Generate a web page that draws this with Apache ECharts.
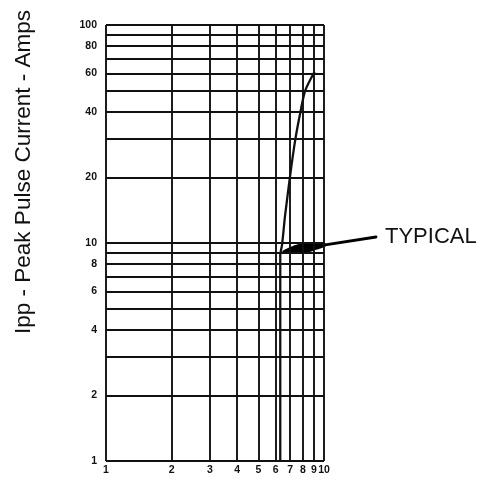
<!DOCTYPE html>
<html>
<head>
<meta charset="utf-8">
<script src="https://cdn.jsdelivr.net/npm/echarts@6/dist/echarts.min.js"></script>
<style>
html,body{margin:0;padding:0;background:#fff;}
#c{width:485px;height:483px;}
</style>
</head>
<body>
<div id="c"></div>
<script>
// Grid lines and tick labels
const xGrid = [1, 2, 3, 4, 5, 6, 7, 8, 9, 10];
const xTickLabels = [1, 2, 3, 4, 5, 6, 7, 8, 9, 10];
const yGrid = [1, 2, 3, 4, 5, 6, 7, 8, 9, 10, 20, 30, 40, 50, 60, 70, 80, 90, 100];
const yTickLabels = [1, 2, 4, 6, 8, 10, 20, 40, 60, 80, 100];

// Typical curve (x, Ipp amps)
const curveX = [6.3, 6.3, 6.42, 6.62, 6.98, 7.38, 7.8, 8.2, 9.05];
const curveY = [1, 8.8, 9.8, 13.2, 20.1, 29.7, 40, 50, 61];

// Annotation
const annotationText = 'TYPICAL';
const arrowTip = [6.42, 9.15];
const yTitle = 'Ipp - Peak Pulse Current - Amps';

const lineColor = '#111';
const tickFont = {fontFamily: 'Liberation Sans', fontWeight: 'bold', fontSize: 10.5, color: '#111'};

const chart = echarts.init(document.getElementById('c'), null, {renderer: 'canvas'});

const vLines = xGrid.map(v => ({
  xAxis: v,
  label: {
    show: xTickLabels.indexOf(v) >= 0,
    position: 'start',
    distance: 4,
    formatter: String(v),
    ...tickFont
  }
}));
const hLines = yGrid.map(v => ({
  yAxis: v,
  label: {
    show: yTickLabels.indexOf(v) >= 0,
    position: 'start',
    distance: 9,
    formatter: String(v),
    ...tickFont
  }
}));

chart.setOption({
  animation: false,
  backgroundColor: '#fff',
  grid: {left: 106, right: 161, top: 25, bottom: 22, containLabel: false},
  xAxis: {
    type: 'log', logBase: 10, min: 1, max: 10,
    axisLine: {show: false}, axisTick: {show: false},
    axisLabel: {show: false}, splitLine: {show: false}
  },
  yAxis: {
    type: 'log', logBase: 10, min: 1, max: 100,
    axisLine: {show: false}, axisTick: {show: false},
    axisLabel: {show: false}, splitLine: {show: false}
  },
  series: [
    {
      type: 'line',
      data: [],
      silent: true,
      markLine: {
        silent: true,
        symbol: ['none', 'none'],
        animation: false,
        lineStyle: {color: lineColor, width: 1.9, type: 'solid'},
        emphasis: {disabled: true},
        data: vLines.concat(hLines)
      }
    },
    {
      type: 'line',
      data: curveX.map((x, i) => [x, curveY[i]]),
      showSymbol: false,
      symbol: 'none',
      smooth: 0.25,
      lineStyle: {color: lineColor, width: 2.3},
      silent: true
    }
  ]
});

// Arrow annotation anchored to data coordinates
const tip = chart.convertToPixel({xAxisIndex: 0, yAxisIndex: 0}, arrowTip);
const tail = [376, 237];
const dx = tail[0] - tip[0], dy = tail[1] - tip[1];
const len = Math.sqrt(dx * dx + dy * dy);
const ux = dx / len, uy = dy / len, nx = -uy, ny = ux;
function pt(a, w) { return [tip[0] + ux * a + nx * w, tip[1] + uy * a + ny * w]; }
const head = [pt(0, 0), pt(10, 3.4), pt(22, 5.4), pt(34, 3.6), pt(44, 1.5), pt(44, -1.5), pt(34, -3.6), pt(22, -5.4), pt(10, -3.4)];

chart.setOption({
  graphic: [
    {type: 'polygon', shape: {points: head, smooth: 0.2}, style: {fill: '#000'}, silent: true},
    {type: 'line', shape: {x1: pt(42, 0)[0], y1: pt(42, 0)[1], x2: tail[0], y2: tail[1]},
     style: {stroke: '#000', lineWidth: 2.8, lineCap: 'round'}, silent: true},
    {type: 'text', left: 385, top: 226,
     style: {text: annotationText, fontFamily: 'Liberation Sans', fontSize: 22, fill: '#111'}, silent: true},
    {type: 'text', x: 24, y: 172, rotation: Math.PI / 2,
     style: {text: yTitle, fontFamily: 'Liberation Sans', fontSize: 22.5, fill: '#111', align: 'center', verticalAlign: 'middle'}, silent: true}
  ]
});
</script>
</body>
</html>
